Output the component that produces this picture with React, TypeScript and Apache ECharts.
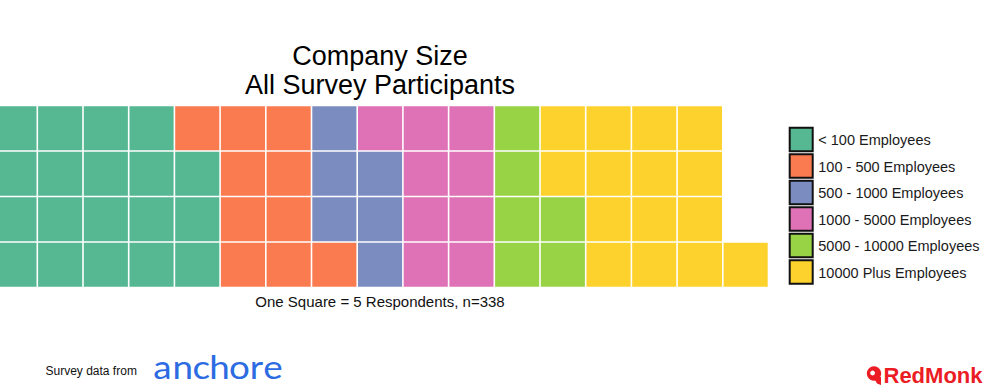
import React, { useEffect, useRef } from "react";
import * as echarts from "echarts";

const categories = [
  "< 100 Employees",
  "100 - 500 Employees",
  "500 - 1000 Employees",
  "1000 - 5000 Employees",
  "5000 - 10000 Employees",
  "10000 Plus Employees",
];
// number of squares per category (one square = 5 respondents)
const squares = [19, 10, 6, 9, 6, 15];
const colors = ["#55b892", "#fb7b51", "#7b8dc0", "#df72b6", "#98d346", "#fed22c"];
const ROWS = 4;
const COLS = 17;
const titleLines = ["Company Size", "All Survey Participants"];
const subtitle = "One Square = 5 Respondents, n=338";
const anchoreLetters = ["a", "n", "c", "h", "o", "r", "e"];
const anchoreCenters = [162.3, 182.7, 201.3, 219.5, 239.5, 256.5, 273];

const FONT = "'Liberation Sans', Arial, Helvetica, sans-serif";
const CELL = 45.7;
const X_START = 8.4 / CELL; // first column is partly cut off at the left edge

export default function App() {
  const ref = useRef<HTMLDivElement>(null);
  useEffect(() => {
    document.body.style.margin = "0";
    if (!ref.current) return;
    const chart = echarts.init(ref.current, undefined, { renderer: "svg" });

    // lay out squares column by column, filling bottom to top
    let idx = 0;
    const series = categories.map((name, k) => {
      const data: number[][] = [];
      for (let j = 0; j < squares[k]; j++) {
        data.push([Math.floor(idx / ROWS), idx % ROWS]);
        idx++;
      }
      return {
        type: "custom",
        name,
        data,
        clip: false,
        silent: true,
        itemStyle: { color: colors[k] },
        encode: { x: 0, y: 1 },
        renderItem: (params: any, api: any) => {
          const c = api.value(0);
          const r = api.value(1);
          const p = api.coord([c, r + 1]);
          const s = api.size([1, 1]);
          const g = 0.8;
          return {
            type: "rect",
            shape: { x: p[0] + g, y: p[1] + g, width: s[0] - 2 * g, height: s[1] - 2 * g },
            style: { fill: colors[k] },
          };
        },
      };
    });

    const legendEls: any[] = [];
    categories.forEach((name, i) => {
      const top = 126.7 + i * 26.5;
      legendEls.push({
        type: "rect",
        shape: { x: 789.7, y: top + 1, width: 23, height: 23.5 },
        style: { fill: colors[i], stroke: "#111111", lineWidth: 2 },
      });
      legendEls.push({
        type: "text",
        x: 818.3,
        y: top + 13.5,
        style: {
          text: name,
          fontSize: 14.5,
          fontFamily: FONT,
          fill: "#1a1a1a",
          textAlign: "left",
          textVerticalAlign: "middle",
        },
      });
    });

    chart.setOption({
      animation: false,
      backgroundColor: "#ffffff",
      grid: { left: 0, top: 105.5, width: CELL * (COLS - X_START), height: 182 },
      xAxis: { type: "value", min: X_START, max: COLS, show: false },
      yAxis: { type: "value", min: 0, max: ROWS, show: false },
      series,
      graphic: [
        {
          type: "text",
          x: 380,
          y: 56,
          style: {
            text: titleLines[0],
            fontSize: 27,
            fontFamily: FONT,
            fill: "#000",
            textAlign: "center",
            textVerticalAlign: "middle",
          },
        },
        {
          type: "text",
          x: 380,
          y: 85,
          style: {
            text: titleLines[1],
            fontSize: 27,
            fontFamily: FONT,
            fill: "#000",
            textAlign: "center",
            textVerticalAlign: "middle",
          },
        },
        {
          type: "text",
          x: 380,
          y: 301.5,
          style: {
            text: subtitle,
            fontSize: 15,
            fontFamily: FONT,
            fill: "#111",
            textAlign: "center",
            textVerticalAlign: "middle",
          },
        },
        {
          type: "text",
          x: 45.5,
          y: 370.5,
          style: {
            text: "Survey data from",
            fontSize: 12,
            fontFamily: FONT,
            fill: "#111",
            textAlign: "left",
            textVerticalAlign: "middle",
          },
        },
        {
          type: "group",
          children: anchoreLetters.map((ch, i) => ({
            type: "text",
            x: anchoreCenters[i],
            y: 366,
            scaleX: 1.15,
            style: {
              text: ch,
              fontSize: 32,
              fontFamily: "Lato, 'Open Sans', sans-serif",
              fill: "#2c6be2",
              textAlign: "center",
              textVerticalAlign: "middle",
            },
          })),
        },
        {
          type: "group",
          children: [
            { type: "circle", shape: { cx: 874, cy: 373.5, r: 7.2 }, style: { fill: "#ec1c24" } },
            {
              type: "polygon",
              shape: { points: [[874, 378], [881, 377], [881, 385], [877, 383.5]] },
              style: { fill: "#ec1c24" },
            },
            { type: "circle", shape: { cx: 872.6, cy: 373, r: 2.4 }, style: { fill: "#fff" } },
            {
              type: "text",
              x: 883.5,
              y: 375,
              style: {
                text: "RedMonk",
                fontSize: 22,
                fontWeight: "bold",
                fontFamily: FONT,
                fill: "#ec1c24",
                textAlign: "left",
                textVerticalAlign: "middle",
              },
            },
          ],
        },
        ...legendEls,
      ],
    });
    return () => chart.dispose();
  }, []);
  return <div ref={ref} style={{ width: 1000, height: 392 }} />;
}
